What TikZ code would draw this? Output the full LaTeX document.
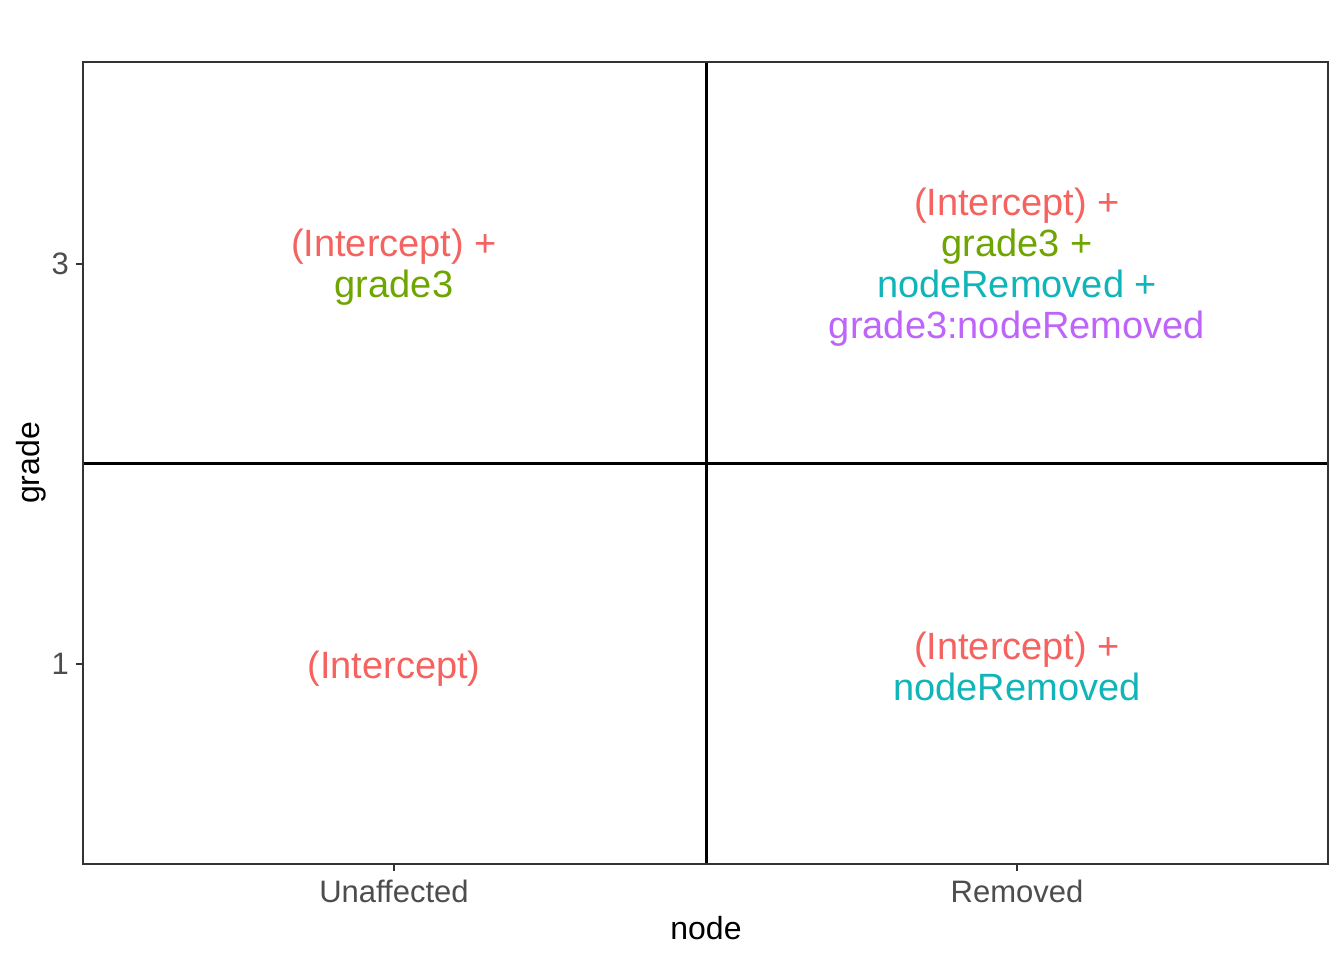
\documentclass[tikz,border=0pt]{standalone}
\usepackage{fontspec}
\setmainfont{Liberation Sans}
\definecolor{cR}{HTML}{F4635F}
\definecolor{cG}{HTML}{6FA500}
\definecolor{cC}{HTML}{10B5B9}
\definecolor{cP}{HTML}{BE64FA}
\definecolor{g20}{HTML}{333333}
\definecolor{g30}{HTML}{4D4D4D}
\begin{document}
\begin{tikzpicture}[x=1pt,y=-1pt,
  lab/.style={align=center,inner sep=0pt,font=\fontsize{38}{41}\selectfont},
  tick/.style={text=g30,inner sep=0pt,font=\fontsize{31}{36}\selectfont},
  ttl/.style={text=black,inner sep=0pt,font=\fontsize{32}{38}\selectfont}]
\useasboundingbox (0,0) rectangle (1344,960);
\fill[white] (0,0) rectangle (1344,960);
% cross lines
\draw[black,line width=3pt] (706,62) -- (706,864);
\draw[black,line width=3pt] (83,463) -- (1328,463);
% panel border
\draw[g20,line width=1.5pt] (83,62) rectangle (1328,864);
% ticks
\draw[g20,line width=1.5pt] (394,864) -- (394,871);
\draw[g20,line width=1.5pt] (1017,864) -- (1017,871);
\draw[g20,line width=1.5pt] (76,264) -- (83,264);
\draw[g20,line width=1.5pt] (76,664) -- (83,664);
% tick labels
\node[tick,anchor=east] (y3) at (69,264) {3};
\node[tick,anchor=east] (y1) at (69,664) {1};
\node[tick,anchor=base] (xu) at (394,902) {Unaffected};
\node[tick,anchor=base] (xr) at (1017,902) {Removed};
% titles
\node[ttl,anchor=base] (xt) at (706,939) {node};
\node[ttl,anchor=base,rotate=90] (yt) at (39,463) {grade};
% labels
\node[lab] (tl) at (394,267) {\textcolor{cR}{(Intercept) +}\\\textcolor{cG}{grade3}};
\node[lab] (tr) at (1017,267) {\textcolor{cR}{(Intercept) +}\\\textcolor{cG}{grade3 +}\\\textcolor{cC}{nodeRemoved +}\\\textcolor{cP}{grade3:nodeRemoved}};
\node[lab] (bl) at (394,669) {\textcolor{cR}{(Intercept)}};
\node[lab] (br) at (1017,666) {\textcolor{cR}{(Intercept) +}\\\textcolor{cC}{nodeRemoved}};
\end{tikzpicture}
\end{document}
